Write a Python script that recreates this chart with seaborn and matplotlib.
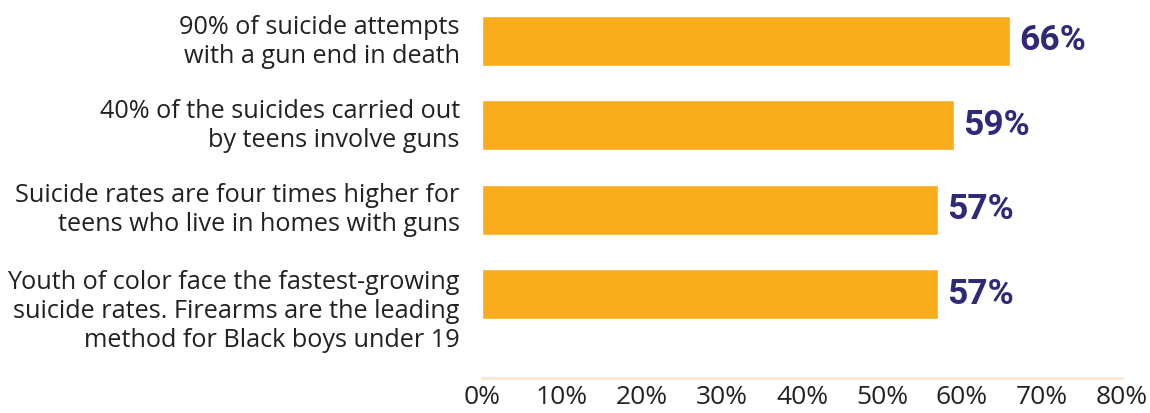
import matplotlib
matplotlib.use("Agg")
import matplotlib.pyplot as plt
import matplotlib.transforms as mtransforms
import seaborn as sns
import pandas as pd

categories = [
    "90% of suicide attempts\nwith a gun end in death",
    "40% of the suicides carried out\nby teens involve guns",
    "Suicide rates are four times higher for\nteens who live in homes with guns",
    "Youth of color face the fastest-growing\nsuicide rates. Firearms are the leading\nmethod for Black boys under 19",
]
values = [66, 59, 57, 57]
value_labels = ["66%", "59%", "57%", "57%"]
tick_values = [0, 10, 20, 30, 40, 50, 60, 70, 80]
tick_labels = ["0%", "10%", "20%", "30%", "40%", "50%", "60%", "70%", "80%"]

sns.set_theme(style="white")
plt.rcParams["font.family"] = ["Open Sans", "DejaVu Sans"]

df = pd.DataFrame({"cat": categories, "val": values})

fig = plt.figure(figsize=(11.5, 4.13), dpi=100)
ax = fig.add_axes([482 / 1150, 35 / 413, 640 / 1150, 378 / 413])

sns.barplot(data=df, y="cat", x="val", orient="h", color="#F9AC1C",
            saturation=1, width=0.59, ax=ax)

ax.set_xlim(0, 80)
ax.set_ylim(3.996, -0.486)
ax.set_xlabel("")
ax.set_ylabel("")
ax.set_xticks(tick_values)
ax.set_xticklabels(tick_labels, fontsize=19, color="#222222")
ax.tick_params(axis="x", length=0, pad=5)
ax.tick_params(axis="y", length=0, pad=16)
for lbl in ax.get_yticklabels():
    lbl.set_fontsize(18.2)
    lbl.set_color("#222222")
    lbl.set_horizontalalignment("right")
    lbl.set_multialignment("right")
    lbl.set_linespacing(1.2)
    nlines = lbl.get_text().count("\n") + 1
    dy = -9 if nlines >= 3 else 3
    lbl.set_transform(lbl.get_transform() +
                      mtransforms.ScaledTranslation(0, dy / 72, fig.dpi_scale_trans))

for s in ["top", "right", "left"]:
    ax.spines[s].set_visible(False)
ax.spines["bottom"].set_color("#F8E7D4")
ax.spines["bottom"].set_linewidth(2)

for i, (v, t) in enumerate(zip(values, value_labels)):
    ax.text(v + 1.1, i, t, va="center", ha="left", fontsize=25.5,
            fontweight="bold", color="#2E2A78", family=["Roboto", "DejaVu Sans"])

fig.savefig("out.png", dpi=100)
